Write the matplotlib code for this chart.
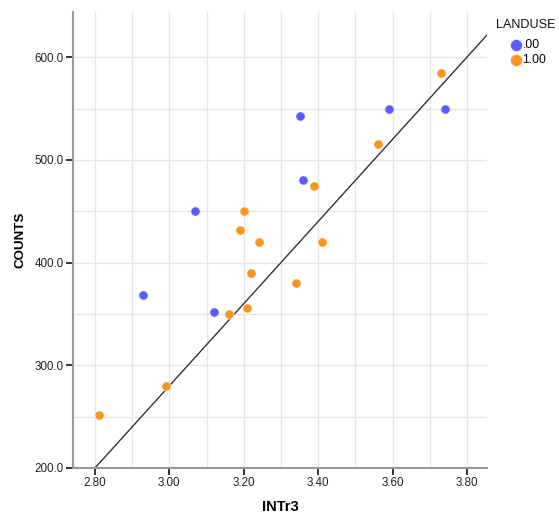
import numpy as np
import matplotlib
matplotlib.use('Agg')
import matplotlib.pyplot as plt

plt.rcParams['font.family'] = ['Liberation Sans', 'DejaVu Sans']

# LANDUSE = .00
intr3_00 = [3.07, 2.93, 3.12, 3.35, 3.36, 3.59, 3.74]
counts_00 = [450, 368, 352, 543, 480, 550, 550]

# LANDUSE = 1.00
intr3_10 = [3.20, 3.19, 3.24, 3.22, 3.16, 3.21, 2.99, 2.81, 3.39, 3.41, 3.56, 3.73, 3.34]
counts_10 = [450, 432, 420, 390, 350, 356, 280, 252, 475, 420, 515, 585, 380]

# reference line: counts = slope * intr3 + intercept
line_slope = 400.0
line_intercept = -920.0

x_ticks = [2.80, 3.00, 3.20, 3.40, 3.60, 3.80]
y_ticks = [200, 300, 400, 500, 600]

blue = '#5a5cff'
orange = '#f8961d'

W, H = 559, 514
fig = plt.figure(figsize=(W / 100, H / 100), dpi=100)
ax = fig.add_axes([73 / W, 46 / H, 414 / W, 456 / H])

xlim = (2.741, 3.854)
ylim = (200, 644)
ax.set_xlim(xlim)
ax.set_ylim(ylim)

ax.set_xticks(x_ticks)
ax.set_xticklabels(['%.2f' % v for v in x_ticks])
ax.set_yticks(y_ticks)
ax.set_yticklabels(['%.1f' % v for v in y_ticks])
ax.set_xticks(np.arange(2.8, 3.85, 0.1), minor=True)
ax.set_yticks(np.arange(250, 650, 100), minor=True)

ax.grid(True, which='both', color='#e6e6e6', linewidth=1.0)
ax.set_axisbelow(True)
ax.tick_params(axis='both', which='minor', length=0)
ax.tick_params(axis='both', which='major', length=5, width=1.3, color='#222222',
               labelsize=8.4, labelcolor='#222222', pad=1.5)

for side in ['top', 'right']:
    ax.spines[side].set_visible(False)
for side in ['left', 'bottom']:
    ax.spines[side].set_color('#9a9a9a')
    ax.spines[side].set_linewidth(1.5)

xs = np.array(xlim)
ax.plot(xs, line_slope * xs + line_intercept, color='#333333', linewidth=1.0, zorder=2)

ax.scatter(intr3_00, counts_00, s=44, color=blue, edgecolors='white', linewidths=0.4,
           label='.00', zorder=3)
ax.scatter(intr3_10, counts_10, s=44, color=orange, edgecolors='white', linewidths=0.4,
           label='1.00', zorder=3)

ax.set_xlabel('INTr3', fontsize=10.6, fontweight='bold')
ax.xaxis.set_label_coords(0.5, (468 - 500) / 456)
ax.set_ylabel('COUNTS', fontsize=9.6, fontweight='bold')
ax.yaxis.set_label_coords(-(73 - 26) / 414, 0.5)

fig.text(496 / W, 1 - 25 / H, 'LANDUSE', fontsize=9.1, va='center', ha='left',
         color='#111111')
ax.legend(loc='upper left', bbox_to_anchor=(509 / W, 1 - 39 / H),
          bbox_transform=fig.transFigure, frameon=False, fontsize=8.8,
          markerscale=1.3, handlelength=1.1, handletextpad=0.0,
          borderaxespad=0, borderpad=0, labelspacing=0.23)

fig.savefig('out.png', dpi=100)
